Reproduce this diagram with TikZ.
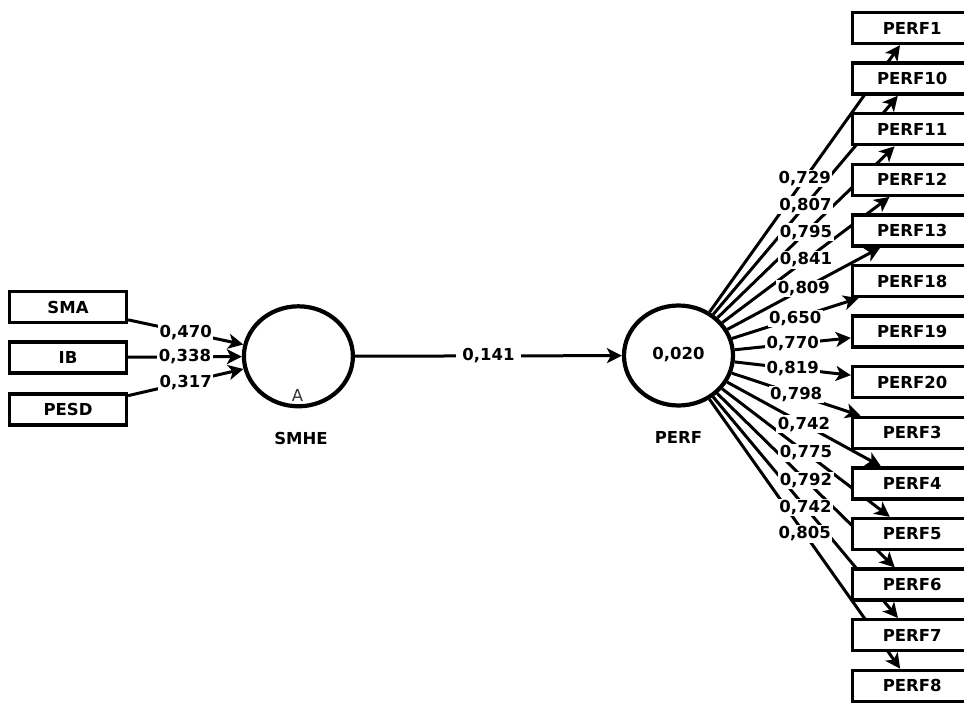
\documentclass[tikz,border=0pt]{standalone}
\usepackage{fontspec}
\setmainfont{DejaVu Sans}
\usetikzlibrary{arrows.meta,shapes.geometric}
\pgfdeclarelayer{paper}
\pgfdeclarelayer{edges}
\pgfdeclarelayer{coefs}
\pgfsetlayers{paper,edges,coefs,main}
\newcommand{\lblfont}{\fontsize{16.5}{19}\selectfont\bfseries}
\begin{document}
\begin{tikzpicture}[x=1pt,y=-1pt,
  indbox/.style={draw, line width=3.3pt, fill=white, inner sep=0pt, font=\lblfont,
    minimum height=31pt},
  leftbox/.style={indbox, minimum width=117pt},
  rightbox/.style={indbox, minimum width=119.5pt},
  latent/.style={draw, ellipse, line width=4.2pt, fill=white, inner sep=0pt,
    minimum width=109pt, minimum height=100pt, font=\lblfont},
  coef/.style={fill=white, inner sep=1.5pt, font=\lblfont},
  plain/.style={font=\lblfont, inner sep=0pt},
  conn/.style={line width=3pt, -{Stealth[length=15pt,width=15pt,inset=4pt]}}
]
\useasboundingbox (0,0) rectangle (964,702);
\clip (0,0) rectangle (964,702);
\begin{pgfonlayer}{paper}
  \fill[white] (0,0) rectangle (964,702);
\end{pgfonlayer}

% left indicators
\node[leftbox] (sma) at (68,307) {SMA};
\node[leftbox] (ib) at (68,357.5) {IB};
\node[leftbox] (pesd) at (68,409.5) {PESD};

% latent variables
\node[latent] (smhe) at (298.4,356.3) {};
\node[latent] (perf) at (678.5,355.5) {\raisebox{4pt}{0,020}};
\node[font=\fontsize{16.5}{19}\selectfont, text=black!80, inner sep=0pt] (smheA) at (297.5,395.5) {A};
\node[plain] (smhename) at (301,438.5) {SMHE};
\node[plain] (perfname) at (678.5,437.8) {PERF};

% right indicators
\foreach \n [count=\i from 0] in {PERF1,PERF10,PERF11,PERF12,PERF13,PERF18,PERF19,PERF20,PERF3,PERF4,PERF5,PERF6,PERF7,PERF8}{
  \node[rightbox] (r\i) at (912.25,{28+50.6*\i}) {\n};
}

\begin{pgfonlayer}{edges}
  \draw[conn] (sma) -- (smhe);
  \draw[conn] (ib) -- (smhe);
  \draw[conn] (pesd) -- (smhe);
  \draw[conn] (smhe) -- (perf);
  \foreach \i in {0,...,13}{
    \draw[conn] (perf) -- (r\i);
  }
\end{pgfonlayer}

\begin{pgfonlayer}{coefs}
  \path (sma) -- (smhe) node[coef, pos=0.5] {0,470};
  \path (ib) -- (smhe) node[coef, pos=0.5] {0,338};
  \path (pesd) -- (smhe) node[coef, pos=0.5] {0,317};
  \path (smhe) -- (perf) node[coef, pos=0.5, inner xsep=6pt] {0,141};
  \path (perf) -- (r0) node[coef, pos=0.5] {0,729};
  \path (perf) -- (r1) node[coef, pos=0.5] {0,807};
  \path (perf) -- (r2) node[coef, pos=0.5] {0,795};
  \path (perf) -- (r3) node[coef, pos=0.5] {0,841};
  \path (perf) -- (r4) node[coef, pos=0.5] {0,809};
  \path (perf) -- (r5) node[coef, pos=0.5] {0,650};
  \path (perf) -- (r6) node[coef, pos=0.5] {0,770};
  \path (perf) -- (r7) node[coef, pos=0.5] {0,819};
  \path (perf) -- (r8) node[coef, pos=0.5] {0,798};
  \path (perf) -- (r9) node[coef, pos=0.5] {0,742};
  \path (perf) -- (r10) node[coef, pos=0.5] {0,775};
  \path (perf) -- (r11) node[coef, pos=0.5] {0,792};
  \path (perf) -- (r12) node[coef, pos=0.5] {0,742};
  \path (perf) -- (r13) node[coef, pos=0.5] {0,805};
\end{pgfonlayer}
\end{tikzpicture}
\end{document}
